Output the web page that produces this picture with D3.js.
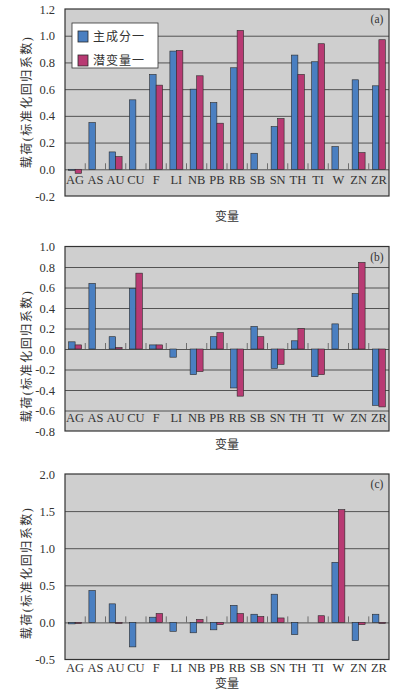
<!DOCTYPE html>
<html>
<head>
<meta charset="utf-8">
<script src="https://cdn.jsdelivr.net/npm/d3@7"></script>
<style>
  body { margin: 0; background: #fff; }
  svg text { font-family: "Liberation Serif", "Times New Roman", "Noto Sans CJK SC", serif; fill: #333; }
</style>
</head>
<body>
<svg id="chart" width="397" height="697"></svg>
<script>
var categories = ["AG", "AS", "AU", "CU", "F", "LI", "NB", "PB", "RB", "SB", "SN", "TH", "TI", "W", "ZN", "ZR"];
var seriesNames = ["主成分一", "潜变量一"];

// (a)
var pcaA = [-0.005, 0.35, 0.13, 0.52, 0.71, 0.885, 0.60, 0.50, 0.76, 0.12, 0.32, 0.855, 0.805, 0.17, 0.67, 0.625];
var plsA = [-0.03, 0, 0.095, 0, 0.63, 0.89, 0.70, 0.345, 1.04, 0, 0.38, 0.71, 0.94, 0, 0.125, 0.97];
var ticksA = [-0.2, 0.0, 0.2, 0.4, 0.6, 0.8, 1.0, 1.2];

// (b)
var pcaB = [0.07, 0.64, 0.12, 0.59, 0.04, -0.08, -0.25, 0.12, -0.38, 0.22, -0.19, 0.08, -0.27, 0.245, 0.54, -0.55];
var plsB = [0.04, 0, 0.015, 0.74, 0.04, 0, -0.22, 0.16, -0.46, 0.12, -0.15, 0.20, -0.25, 0, 0.845, -0.565];
var ticksB = [-0.8, -0.6, -0.4, -0.2, 0.0, 0.2, 0.4, 0.6, 0.8, 1.0];

// (c)
var pcaC = [-0.02, 0.43, 0.25, -0.33, 0.07, -0.12, -0.14, -0.10, 0.23, 0.11, 0.38, -0.165, 0, 0.81, -0.245, 0.11];
var plsC = [-0.005, 0, -0.01, 0, 0.12, 0, 0.04, -0.03, 0.12, 0.08, 0.06, 0, 0.09, 1.52, -0.03, -0.01];
var ticksC = [-0.5, 0.0, 0.5, 1.0, 1.5, 2.0];

var colors = ["#4a7fc1", "#b83a73"];
var left = 65, right = 389;
var serif = "'Liberation Serif', 'Times New Roman', serif";

var svg = d3.select("#chart");

var panels = [
  { tag: "(a)", pca: pcaA, pls: plsA, ticks: ticksA, top: 9, bottom: 196, labelY: 181, titleY: 217, ylabY: 102, legend: true },
  { tag: "(b)", pca: pcaB, pls: plsB, ticks: ticksB, top: 246.5, bottom: 431, labelY: 419, titleY: 445, ylabY: 356 },
  { tag: "(c)", pca: pcaC, pls: plsC, ticks: ticksC, top: 474, bottom: 659.5, labelY: 669, titleY: 684, ylabY: 573 }
];

panels.forEach(function(p) {
  var g = svg.append("g");
  var tks = p.ticks;
  var y = d3.scaleLinear().domain([tks[0], tks[tks.length - 1]]).range([p.bottom, p.top]);
  var x0 = d3.scaleBand().domain(categories).range([left, right]).paddingInner(0.36).paddingOuter(0.18);
  var x1 = d3.scaleBand().domain([0, 1]).range([0, x0.bandwidth()]);

  g.append("rect").attr("x", left).attr("y", p.top).attr("width", right - left).attr("height", p.bottom - p.top)
    .attr("fill", "#cfcfcf");

  // gridlines
  var grid = g.append("g").attr("transform", "translate(" + left + ",0)")
    .call(d3.axisLeft(y).tickValues(tks.slice(1, -1)).tickSize(-(right - left)).tickFormat(""));
  grid.select(".domain").remove();
  grid.selectAll("line").attr("stroke", "#333").attr("stroke-width", 0.8);

  // category separators on zero line
  g.append("g").selectAll("line").data(categories.slice(1)).enter().append("line")
    .attr("x1", function(d) { return x0(d) - x0.step() * 0.18; })
    .attr("x2", function(d) { return x0(d) - x0.step() * 0.18; })
    .attr("y1", y(0) - 6).attr("y2", y(0))
    .attr("stroke", "#555").attr("stroke-width", 0.8);

  // bars
  var rows = categories.map(function(c, i) { return { cat: c, vals: [p.pca[i], p.pls[i]] }; });
  var grp = g.append("g").selectAll("g").data(rows).enter().append("g")
    .attr("transform", function(d) { return "translate(" + x0(d.cat) + ",0)"; });
  grp.selectAll("rect").data(function(d) { return d.vals.map(function(v, k) { return { k: k, v: v }; }); })
    .enter().filter(function(d) { return d.v !== 0; }).append("rect")
    .attr("x", function(d) { return x1(d.k); })
    .attr("width", x1.bandwidth())
    .attr("y", function(d) { return Math.min(y(d.v), y(0)); })
    .attr("height", function(d) { return Math.max(Math.abs(y(d.v) - y(0)), 1); })
    .attr("fill", function(d) { return colors[d.k]; })
    .attr("stroke", "#2a2a2a").attr("stroke-width", 0.6);

  // plot border
  g.append("rect").attr("x", left).attr("y", p.top).attr("width", right - left).attr("height", p.bottom - p.top)
    .attr("fill", "none").attr("stroke", "#333").attr("stroke-width", 1.2);

  // y tick labels
  var ya = g.append("g").attr("transform", "translate(" + (left - 7) + ",0)")
    .call(d3.axisLeft(y).tickValues(tks).tickSize(0).tickFormat(function(d) { return d.toFixed(1); }));
  ya.select(".domain").remove();
  ya.attr("font-family", serif);
  ya.selectAll("text").attr("font-size", 12.5).attr("fill", "#333").style("font-family", serif);

  // category labels
  var xa = g.append("g").attr("transform", "translate(0," + (p.labelY - 6) + ")")
    .call(d3.axisBottom(x0).tickSize(0).tickPadding(0));
  xa.select(".domain").remove();
  xa.attr("font-family", serif);
  xa.selectAll("text").attr("font-size", 12.5).attr("fill", "#333").attr("dy", "0.75em")
    .style("font-family", serif);

  // axis titles
  g.append("text").attr("x", (left + right) / 2).attr("y", p.titleY).attr("dy", "0.35em")
    .attr("text-anchor", "middle").attr("font-size", 12).text("变量");
  g.append("text").attr("transform", "translate(27," + p.ylabY + ") rotate(-90)")
    .attr("text-anchor", "middle").attr("dy", "0.35em").attr("font-size", 12)
    .attr("letter-spacing", 1.5).text("载荷(标准化回归系数)");

  // panel tag
  g.append("text").attr("x", 377).attr("y", p.top + 10).attr("dy", "0.35em")
    .attr("text-anchor", "middle").attr("font-size", 11.5).style("font-family", serif).text(p.tag);

  if (p.legend) {
    var lg = g.append("g").attr("transform", "translate(72,23)");
    lg.append("rect").attr("width", 86).attr("height", 45).attr("fill", "#fff")
      .attr("stroke", "#333").attr("stroke-width", 0.8);
    seriesNames.forEach(function(name, k) {
      lg.append("rect").attr("x", 6).attr("y", 8 + k * 24).attr("width", 10).attr("height", 11)
        .attr("fill", colors[k]).attr("stroke", "#2a2a2a").attr("stroke-width", 0.8);
      lg.append("text").attr("x", 21).attr("y", 13.5 + k * 24).attr("dy", "0.35em")
        .attr("font-size", 12).attr("letter-spacing", 1).text(name);
    });
  }
});
</script>
</body>
</html>
